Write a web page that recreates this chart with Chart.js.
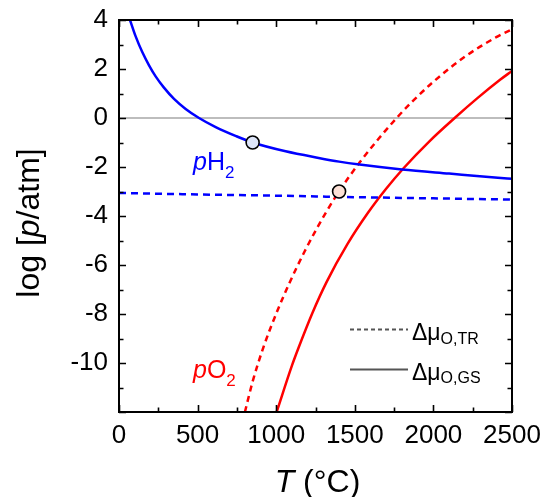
<!DOCTYPE html>
<html>
<head>
<meta charset="utf-8">
<script src="https://cdn.jsdelivr.net/npm/chart.js@4"></script>
<style>
html,body{margin:0;padding:0;background:#fff;}
#wrap{width:543px;height:497px;position:relative;}
</style>
</head>
<body>
<div id="wrap"><canvas id="c" width="543" height="497"></canvas></div>
<script>
// ---- data ----
const T_H2_GS = [70,106,148,191,233,286,350,424,509,615,745,850,1060,1270,1400,1530,1800,2100,2410,2500];
const logH2_GS = [4.0,3.33,2.69,2.15,1.70,1.24,0.78,0.37,0,-0.37,-0.74,-1.0,-1.36,-1.63,-1.78,-1.9,-2.1,-2.27,-2.44,-2.48];

const T_H2_TR = [0,500,1000,1400,2000,2500];
const logH2_TR = [-3.06,-3.12,-3.17,-3.22,-3.28,-3.33];

const T_O2_TR = [801,850,918,1003,1088,1183,1260,1320,1400,1530,1650,1766,1870,2000,2200,2400,2500];
const logO2_TR = [-12,-10.76,-9.37,-7.94,-6.68,-5.42,-4.49,-3.82,-2.99,-1.82,-0.86,0,0.70,1.48,2.50,3.30,3.62];

const T_O2_GS = [1003,1100,1141,1231,1321,1453,1586,1698,1810,1973,2137,2280,2424,2500];
const logO2_GS = [-12,-10.11,-9.4,-7.95,-6.69,-5.15,-3.85,-2.9,-2.05,-0.96,0.01,0.81,1.56,1.92];

const T_marks = [850,1400];
const log_marks = [-1,-3];

const T_ref = [0,2500];
const log_ref = [0,0];

const xTickMin = 0, xTickMax = 2500, xMajor = 500, xMinor = 250;
const yTickMin = -12, yTickMax = 4, yMajor = 2, yMinor = 1;

const pts = (xs, ys) => xs.map((x,i)=>({x:x, y:ys[i]}));

const FONT = "'Liberation Sans', Arial, Helvetica, sans-serif";

function drawRich(ctx, x, y, parts, align) {
  let w = 0;
  parts.forEach(p => { ctx.font = p.font; p.w = ctx.measureText(p.text).width; w += p.w; });
  let cx = align === 'center' ? x - w/2 : (align === 'right' ? x - w : x);
  ctx.textBaseline = 'alphabetic';
  ctx.textAlign = 'left';
  parts.forEach(p => {
    ctx.font = p.font;
    ctx.fillStyle = p.color || ctx.fillStyle;
    ctx.fillText(p.text, cx, y + (p.dy || 0));
    cx += p.w;
  });
}

const decorPlugin = {
  id: 'decor',
  afterDatasetsDraw(chart) {
    const ctx = chart.ctx;
    const a = chart.chartArea;
    const xs = chart.scales.x, ys = chart.scales.y;
    ctx.save();
    // frame
    ctx.strokeStyle = '#000';
    ctx.lineWidth = 2;
    ctx.strokeRect(a.left, a.top, a.right - a.left, a.bottom - a.top);
    // ticks (inside)
    ctx.lineWidth = 1.6;
    ctx.beginPath();
    for (let v = xTickMin; v <= xTickMax; v += xMinor) {
      const px = Math.round(xs.getPixelForValue(v)) + 0.5;
      const L = (v % xMajor === 0) ? 7 : 4.5;
      ctx.moveTo(px, a.bottom); ctx.lineTo(px, a.bottom - L);
      ctx.moveTo(px, a.top); ctx.lineTo(px, a.top + L);
    }
    for (let v = yTickMin; v <= yTickMax; v += yMinor) {
      const py = Math.round(ys.getPixelForValue(v)) + 0.5;
      const L = (Math.abs(v) % yMajor === 0) ? 7 : 4.5;
      ctx.moveTo(a.left, py); ctx.lineTo(a.left + L, py);
      ctx.moveTo(a.right, py); ctx.lineTo(a.right - L, py);
    }
    ctx.stroke();

    // axis titles
    ctx.fillStyle = '#000';
    drawRich(ctx, (a.left + a.right)/2 + 2, 492, [
      {text:'T', font:'italic 32px ' + FONT},
      {text:' (°C)', font:'32px ' + FONT}
    ], 'center');
    ctx.save();
    ctx.translate(39, 223);
    ctx.rotate(-Math.PI/2);
    drawRich(ctx, 0, 0, [
      {text:'log [', font:'32px ' + FONT},
      {text:'p', font:'italic 32px ' + FONT},
      {text:'/atm]', font:'32px ' + FONT}
    ], 'center');
    ctx.restore();

    // curve labels
    drawRich(ctx, 193, 170, [
      {text:'p', font:'italic 25px ' + FONT, color:'#0000ff'},
      {text:'H', font:'25px ' + FONT, color:'#0000ff'},
      {text:'2', font:'17px ' + FONT, dy:8, color:'#0000ff'}
    ], 'left');
    drawRich(ctx, 193, 378, [
      {text:'p', font:'italic 25px ' + FONT, color:'#ff0000'},
      {text:'O', font:'25px ' + FONT, color:'#ff0000'},
      {text:'2', font:'17px ' + FONT, dy:8, color:'#ff0000'}
    ], 'left');

    // legend
    ctx.strokeStyle = '#555';
    ctx.lineWidth = 2;
    ctx.setLineDash([4,3]);
    ctx.beginPath(); ctx.moveTo(350, 329.5); ctx.lineTo(408, 329.5); ctx.stroke();
    ctx.setLineDash([]);
    ctx.beginPath(); ctx.moveTo(350, 369.5); ctx.lineTo(408, 369.5); ctx.stroke();
    drawRich(ctx, 412, 340, [
      {text:'Δμ', font:'23px ' + FONT, color:'#000'},
      {text:'O,TR', font:'16px ' + FONT, dy:3.5, color:'#000'}
    ], 'left');
    drawRich(ctx, 412, 380, [
      {text:'Δμ', font:'23px ' + FONT, color:'#000'},
      {text:'O,GS', font:'16px ' + FONT, dy:3, color:'#000'}
    ], 'left');
    ctx.restore();
  }
};

const lineDs = (label, data, color, dash, width) => ({
  label, data, showLine: true, borderColor: color, backgroundColor: color,
  borderWidth: width, borderDash: dash, pointRadius: 0, pointHoverRadius: 0,
  cubicInterpolationMode: 'monotone', fill: false
});

const zeroPad = s => { s.paddingLeft = 0; s.paddingRight = 0; s.paddingTop = 0; s.paddingBottom = 0; };

new Chart(document.getElementById('c'), {
  type: 'scatter',
  data: {
    datasets: [
      Object.assign(lineDs('ref', pts(T_ref, log_ref), '#bdbdbd', [], 2), {order: 10}),
      lineDs('pH2 TR', pts(T_H2_TR, logH2_TR), '#0000ff', [7,5], 2.5),
      lineDs('pH2 GS', pts(T_H2_GS, logH2_GS), '#0000ff', [], 2.5),
      lineDs('pO2 TR', pts(T_O2_TR, logO2_TR), '#ff0000', [6,4.5], 2.5),
      lineDs('pO2 GS', pts(T_O2_GS, logO2_GS), '#ff0000', [], 2.5),
      {
        label: 'marks', data: pts(T_marks, log_marks), showLine: false,
        pointRadius: 6.5, pointBorderWidth: 1.6, pointBorderColor: '#000',
        pointBackgroundColor: ['#dde5f8', '#fbe0d6'], order: -1
      }
    ]
  },
  options: {
    responsive: false,
    animation: false,
    devicePixelRatio: 1,
    layout: { padding: { left: 0, right: 31, top: 20, bottom: 0 } },
    plugins: { legend: { display: false }, tooltip: { enabled: false } },
    events: [],
    scales: {
      x: {
        type: 'linear', min: xTickMin, max: xTickMax,
        grid: { display: false, drawTicks: false },
        border: { display: false },
        ticks: { stepSize: xMajor, padding: 8, color: '#000', font: { family: FONT, size: 26 }, maxRotation: 0,
          callback: v => String(v) },
        afterFit: s => { s.height = 85; zeroPad(s); }
      },
      y: {
        type: 'linear', min: yTickMin, max: yTickMax,
        grid: { display: false, drawTicks: false },
        border: { display: false },
        ticks: { stepSize: yMajor, padding: 11, color: '#000', font: { family: FONT, size: 26 },
          callback: v => (v === yTickMin ? '' : String(v)) },
        afterFit: s => { s.width = 119; zeroPad(s); }
      }
    }
  },
  plugins: [decorPlugin]
});
</script>
</body>
</html>
